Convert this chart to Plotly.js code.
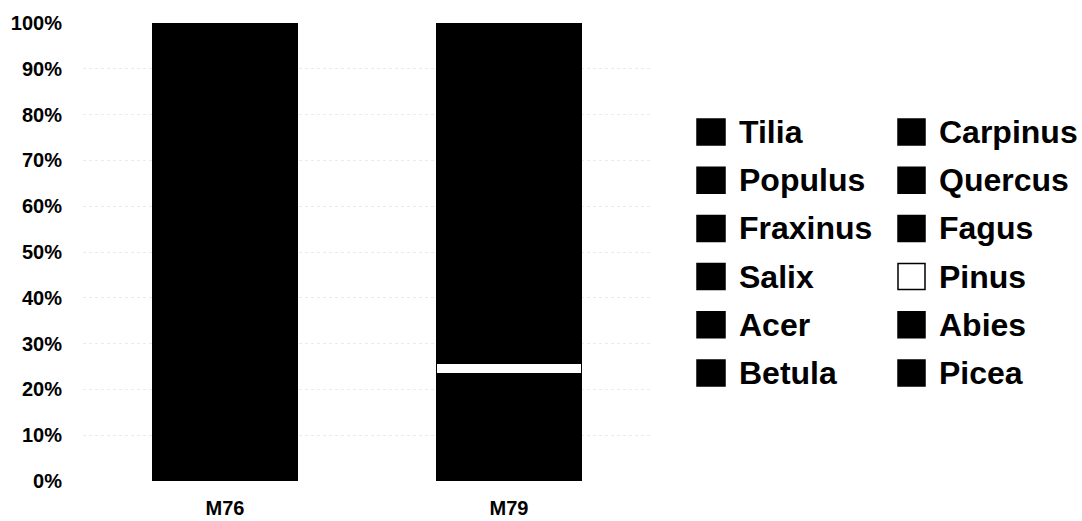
<!DOCTYPE html>
<html>
<head>
<meta charset="utf-8">
<script src="https://cdn.plot.ly/plotly-3.0.1.min.js"></script>
<style>
html,body{margin:0;padding:0;background:#fff;}
#chart{width:1082px;height:521px;}
</style>
</head>
<body>
<div id="chart"></div>
<script>
// Samples (categories)
const samples = ["M76", "M79"];

// Species, stacked bottom to top
const species = ["Picea", "Abies", "Pinus", "Fagus", "Quercus", "Carpinus",
                 "Betula", "Acer", "Salix", "Fraxinus", "Populus", "Tilia"];

// Percent values per species for [M76, M79]
const picea    = [40.0, 15.0];
const abies    = [20.0, 8.5];
const pinus    = [0.0, 2.2];
const fagus    = [15.0, 30.0];
const quercus  = [6.0, 10.3];
const carpinus = [5.0, 12.0];
const betula   = [4.0, 6.0];
const acer     = [2.0, 3.0];
const salix    = [2.0, 2.5];
const fraxinus = [3.0, 5.0];
const populus  = [1.0, 2.0];
const tilia    = [2.0, 3.5];

const seriesValues = [picea, abies, pinus, fagus, quercus, carpinus,
                      betula, acer, salix, fraxinus, populus, tilia];

// Fill colours (black except Pinus, white)
const fillColors = ["#000000", "#000000", "#ffffff", "#000000", "#000000", "#000000",
                    "#000000", "#000000", "#000000", "#000000", "#000000", "#000000"];

// Legend order: two columns, read down then across
const legendCol1 = ["Tilia", "Populus", "Fraxinus", "Salix", "Acer", "Betula"];
const legendCol2 = ["Carpinus", "Quercus", "Fagus", "Pinus", "Abies", "Picea"];

const yTicks = [0, 10, 20, 30, 40, 50, 60, 70, 80, 90, 100];

const FONT = "Liberation Sans, Arial, sans-serif";

const traces = species.map((name, i) => ({
  type: "bar",
  name: name,
  x: samples,
  y: seriesValues[i],
  marker: {color: fillColors[i], line: {color: "#000000", width: 1.5}},
  showlegend: false,
  hoverinfo: "name+y"
}));

// plot area geometry (px)
const W = 1082, H = 521;
const mL = 83, mR = 431, mT = 23, mB = 40;
const pw = W - mL - mR, ph = H - mT - mB;
const px2x = p => (p - mL) / pw;
const py2y = p => (H - mB - p) / ph;

const shapes = [];
const annotations = [];
const colsX = [{sw0: 697, sw1: 725, tx: 737, names: legendCol1},
               {sw0: 898, sw1: 925, tx: 937, names: legendCol2}];
const row0 = 132, rowStep = 48.2, swH = 26;
colsX.forEach(col => {
  col.names.forEach((nm, r) => {
    const cy = row0 + r * rowStep;
    const idx = species.indexOf(nm);
    shapes.push({type: "rect", xref: "paper", yref: "paper",
      x0: px2x(col.sw0), x1: px2x(col.sw1),
      y0: py2y(cy + swH / 2), y1: py2y(cy - swH / 2),
      fillcolor: fillColors[idx], line: {color: "#000000", width: 1.5}});
    annotations.push({xref: "paper", yref: "paper", x: px2x(col.tx), y: py2y(cy),
      xanchor: "left", yanchor: "middle", showarrow: false, text: nm,
      font: {family: FONT, size: 32, color: "#000000", weight: "bold"}});
  });
});

const layout = {
  width: W, height: H,
  margin: {l: mL, r: mR, t: mT, b: mB, pad: 0},
  paper_bgcolor: "#ffffff", plot_bgcolor: "#ffffff",
  barmode: "stack",
  bargap: 0.49,
  showlegend: false,
  xaxis: {
    type: "category", range: [-0.5, 1.5], showline: false, showgrid: false,
    zeroline: false, ticks: "", ticklabelstandoff: 13,
    tickfont: {family: FONT, size: 20, color: "#000000", weight: "bold"}
  },
  yaxis: {
    range: [0, 100], tickvals: yTicks, ticktext: yTicks.map(v => v + "%"),
    showline: false, zeroline: false, ticks: "", ticklabelstandoff: 20,
    showgrid: true, gridcolor: "#ebebeb", griddash: "dot", gridwidth: 1,
    tickfont: {family: FONT, size: 20, color: "#000000", weight: "bold"}
  },
  shapes: shapes,
  annotations: annotations
};

Plotly.newPlot("chart", traces, layout, {displayModeBar: false, staticPlot: true});
</script>
</body>
</html>
